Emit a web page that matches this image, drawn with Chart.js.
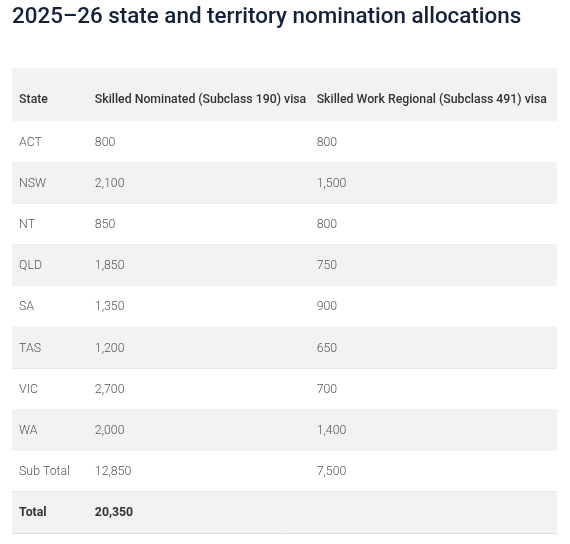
<!DOCTYPE html>
<html><head><meta charset="utf-8">
<script src="https://cdn.jsdelivr.net/npm/chart.js@4"></script>
<style>html,body{margin:0;padding:0;background:#fff}#w{width:570px;height:544px}</style>
</head><body><div id="w"><canvas id="c"></canvas></div>
<script>
const title = "2025–26 state and territory nomination allocations";
const headers = ["State", "Skilled Nominated (Subclass 190) visa", "Skilled Work Regional (Subclass 491) visa"];
const states = ["ACT","NSW","NT","QLD","SA","TAS","VIC","WA","Sub Total","Total"];
const visa190 = ["800","2,100","850","1,850","1,350","1,200","2,700","2,000","12,850","20,350"];
const visa491 = ["800","1,500","800","750","900","650","700","1,400","7,500",""];
const shaded = [false,true,false,true,false,true,false,true,false,true];

const colX = [0.013, 0.152, 0.559];
const tablePlugin = {
  id: 'tableText',
  beforeDatasetsDraw(chart){
    const {ctx, chartArea:a} = chart;
    ctx.save();
    ctx.fillStyle = '#f2f2f2';
    ctx.fillRect(a.left, 68, a.right - a.left, a.top - 68);
    ctx.restore();
  },
  afterDraw(chart){
    const {ctx, chartArea:a, scales:{x,y}} = chart;
    ctx.save();
    ctx.fillStyle = '#14213a';
    ctx.font = '500 22.4px Roboto';
    ctx.textBaseline = 'middle';
    ctx.fillText(title, 12, 17);
    ctx.font = '500 12.3px Roboto';
    ctx.fillStyle = '#333';
    headers.forEach((h,i)=>ctx.fillText(h, x.getPixelForValue(colX[i]), (68 + a.top)/2 + 5));
    states.forEach((s,r)=>{
      const py = y.getPixelForValue(r) + 1;
      const bold = s === 'Total';
      ctx.font = (bold ? 'bold ' : '300 ') + '12.3px Roboto';
      ctx.fillStyle = bold ? '#333' : '#555';
      [s, visa190[r], visa491[r]].forEach((t,i)=>ctx.fillText(t, x.getPixelForValue(colX[i]), py));
    });
    ctx.restore();
  }
};

new Chart(document.getElementById('c'), {
  type: 'bar',
  data: {
    labels: states,
    datasets: [{
      data: shaded.map(s => s ? [0,1] : null),
      backgroundColor: '#f2f2f2',
      barPercentage: 1, categoryPercentage: 1, borderWidth: 0
    }]
  },
  options: {
    indexAxis: 'y',
    responsive: true, maintainAspectRatio: false, animation: false,
    layout: {padding: {left: 12, right: 13, top: 121, bottom: 11}},
    plugins: {legend: {display: false}, tooltip: {enabled: false}},
    scales: {
      x: {type: 'linear', min: 0, max: 1, display: false},
      y: {type: 'category', display: true, offset: true,
          ticks: {display: false},
          border: {display: false},
          grid: {offset: true, color: '#dddddd', lineWidth: 1, drawTicks: false}}
    }
  },
  plugins: [tablePlugin]
});
</script></body></html>
